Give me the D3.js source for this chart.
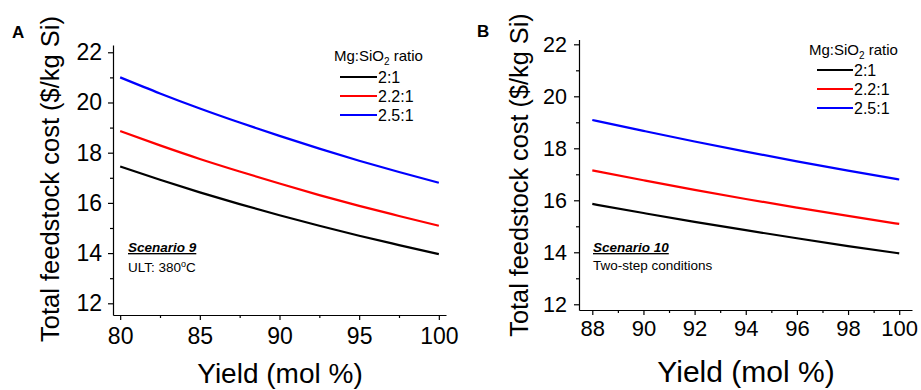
<!DOCTYPE html>
<html>
<head>
<meta charset="utf-8">
<script src="https://cdn.jsdelivr.net/npm/d3@7"></script>
<style>
  html, body { margin: 0; padding: 0; background: #fff; }
  svg { display: block; font-family: "Liberation Sans", Arial, sans-serif; }
</style>
</head>
<body>
<svg id="chart" width="921" height="390"></svg>
<script>
// Total feedstock cost ($/kg Si) vs. yield, for three Mg:SiO2 ratios

// Scenario 9 (ULT 380 °C), yield 80–100 mol %
const yieldA = [80, 82.5, 85, 87.5, 90, 92.5, 95, 97.5, 100];
const costA_21  = [17.45, 16.92, 16.42, 15.95, 15.51, 15.09, 14.69, 14.32, 13.96];
const costA_221 = [18.86, 18.29, 17.75, 17.25, 16.77, 16.31, 15.88, 15.48, 15.09];
const costA_251 = [21.00, 20.36, 19.76, 19.20, 18.67, 18.16, 17.68, 17.23, 16.80];

// Scenario 10 (two-step conditions), yield 88–100 mol %
const yieldB = [88, 90, 92, 94, 96, 98, 100];
const costB_21  = [15.86, 15.51, 15.17, 14.85, 14.54, 14.24, 13.96];
const costB_221 = [17.15, 16.77, 16.40, 16.05, 15.72, 15.40, 15.09];
const costB_251 = [19.09, 18.67, 18.26, 17.87, 17.50, 17.14, 16.80];

const ratioLabels = ["2:1", "2.2:1", "2.5:1"];
const yTicks = [12, 14, 16, 18, 20, 22];
const yMinorTicks = [13, 15, 17, 19, 21];
const xTicksA = [80, 85, 90, 95, 100];
const xMinorTicksA = [82.5, 87.5, 92.5, 97.5];
const xTicksB = [88, 90, 92, 94, 96, 98, 100];
const xMinorTicksB = [89, 91, 93, 95, 97, 99];

const lineColors = ["#000000", "#ff0000", "#0000ff"];

const svg = d3.select("#chart");

function drawPanel(cfg) {
  const g = svg.append("g");
  const x = d3.scaleLinear().domain(cfg.xDomain).range(cfg.xRange);
  const y = d3.scaleLinear().domain(cfg.yDomain).range(cfg.yRange);

  // minor ticks
  g.append("g")
    .attr("transform", `translate(0,${cfg.yRange[0]})`)
    .call(d3.axisBottom(x).tickValues(cfg.xMinor).tickSize(3).tickSizeOuter(0).tickFormat(""))
    .call(s => s.select(".domain").remove());
  g.append("g")
    .attr("transform", `translate(${cfg.xRange[0]},0)`)
    .call(d3.axisLeft(y).tickValues(yMinorTicks).tickSize(3).tickSizeOuter(0).tickFormat(""))
    .call(s => s.select(".domain").remove());

  // major axes
  const xAxis = g.append("g")
    .attr("transform", `translate(0,${cfg.yRange[0]})`)
    .call(d3.axisBottom(x).tickValues(cfg.xTicks).tickSize(5).tickSizeOuter(0)
      .tickPadding(cfg.xPad).tickFormat(d3.format("d")));
  xAxis.selectAll("text").attr("font-size", cfg.xTickFont).attr("fill", "#000");

  const yAxis = g.append("g")
    .attr("transform", `translate(${cfg.xRange[0]},0)`)
    .call(d3.axisLeft(y).tickValues(yTicks).tickSize(5).tickSizeOuter(0)
      .tickPadding(cfg.yPad).tickFormat(d3.format("d")));
  yAxis.selectAll("text").attr("font-size", cfg.yTickFont).attr("fill", "#000");

  g.selectAll(".domain, .tick line").attr("stroke", "#000").attr("stroke-width", 1.2);

  // series lines
  const line = d3.line()
    .x(d => x(d[0]))
    .y(d => y(d[1]))
    .curve(d3.curveMonotoneX);
  cfg.series.forEach((vals, i) => {
    g.append("path")
      .datum(cfg.xs.map((v, j) => [v, vals[j]]))
      .attr("fill", "none")
      .attr("stroke", lineColors[i])
      .attr("stroke-width", 2.2)
      .attr("d", line);
  });

  // axis titles
  g.append("text")
    .attr("transform", `translate(${cfg.yTitlePos[0]},${cfg.yTitlePos[1]}) rotate(-90)`)
    .attr("text-anchor", "middle")
    .attr("font-size", cfg.yTitleFont)
    .text("Total feedstock cost ($/kg Si)");
  g.append("text")
    .attr("x", cfg.xTitlePos[0]).attr("y", cfg.xTitlePos[1])
    .attr("text-anchor", "middle")
    .attr("font-size", cfg.xTitleFont)
    .text("Yield (mol %)");

  // panel letter
  g.append("text")
    .attr("x", cfg.letterPos[0]).attr("y", cfg.letterPos[1])
    .attr("font-size", 17).attr("font-weight", "bold")
    .text(cfg.letter);

  // legend
  const lg = g.append("g").attr("transform", `translate(${cfg.legendPos[0]},${cfg.legendPos[1]})`);
  const lt = lg.append("text").attr("x", 0).attr("y", 0).attr("font-size", 15);
  lt.append("tspan").text("Mg:SiO");
  lt.append("tspan").attr("font-size", 10).attr("dy", 4).text("2");
  lt.append("tspan").attr("dy", -4).text(" ratio");
  ratioLabels.forEach((lab, i) => {
    const yy = cfg.legendRow0 + i * cfg.legendStep;
    lg.append("line")
      .attr("x1", cfg.legendLineX[0]).attr("x2", cfg.legendLineX[1])
      .attr("y1", yy).attr("y2", yy)
      .attr("stroke", lineColors[i]).attr("stroke-width", 2.2);
    lg.append("text")
      .attr("x", cfg.legendLineX[1] + 1).attr("y", yy)
      .attr("dy", "0.35em")
      .attr("font-size", 16)
      .text(lab);
  });

  // scenario note
  const note = g.append("g").attr("transform", `translate(${cfg.notePos[0]},${cfg.notePos[1]})`);
  note.append("text")
    .attr("x", 0).attr("y", 0)
    .attr("font-size", 13.5).attr("font-weight", "bold").attr("font-style", "italic")
    .attr("text-decoration", "underline")
    .text(cfg.noteTitle);
  const sub = note.append("text")
    .attr("x", 0).attr("y", cfg.noteGap)
    .attr("font-size", 13.5);
  cfg.noteLine(sub);
}

drawPanel({
  letter: "A",
  letterPos: [12, 38],
  xs: yieldA,
  series: [costA_21, costA_221, costA_251],
  xDomain: [79.55, 100.45], xRange: [113, 446],
  yDomain: [11.534, 22.29], yRange: [315, 45],
  xTicks: xTicksA, xMinor: xMinorTicksA,
  xPad: 8, yPad: 6,
  xTickFont: 23, yTickFont: 23,
  yTitlePos: [59, 179], yTitleFont: 25.5,
  xTitlePos: [280, 383], xTitleFont: 28,
  legendPos: [334, 61], legendRow0: 16, legendStep: 19, legendLineX: [6, 43],
  notePos: [128, 252], noteGap: 20,
  noteTitle: "Scenario 9",
  noteLine: t => {
    t.append("tspan").text("ULT: 380");
    t.append("tspan").attr("font-size", 9).attr("dy", -5).text("o");
    t.append("tspan").attr("dy", 5).text("C");
  }
});

drawPanel({
  letter: "B",
  letterPos: [477, 37],
  xs: yieldB,
  series: [costB_21, costB_221, costB_251],
  xDomain: [87.48, 100.5], xRange: [579, 912],
  yDomain: [11.78, 22.185], yRange: [310, 39.5],
  xTicks: xTicksB, xMinor: xMinorTicksB,
  xPad: 5, yPad: 7,
  xTickFont: 22, yTickFont: 21.5,
  yTitlePos: [528, 175], yTitleFont: 25.3,
  xTitlePos: [746, 382], xTitleFont: 30,
  legendPos: [809, 55], legendRow0: 15, legendStep: 19, legendLineX: [8, 44],
  notePos: [593, 252], noteGap: 18,
  noteTitle: "Scenario 10",
  noteLine: t => { t.text("Two-step conditions"); }
});
</script>
</body>
</html>
